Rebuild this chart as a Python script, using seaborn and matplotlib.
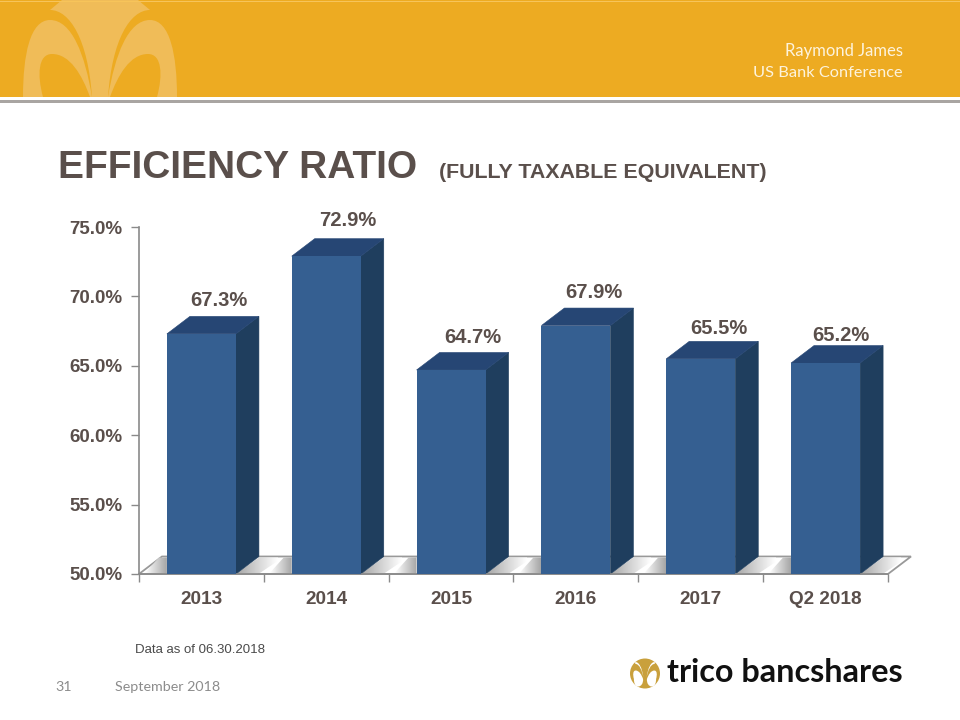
import numpy as np
import pandas as pd
import matplotlib
matplotlib.use("Agg")
import matplotlib.pyplot as plt
import seaborn as sns
from matplotlib.colors import LinearSegmentedColormap
from matplotlib.patches import Polygon, PathPatch, Rectangle, Circle
from matplotlib.path import Path

periods = ["2013", "2014", "2015", "2016", "2017", "Q2 2018"]
ratios = [67.3, 72.9, 64.7, 67.9, 65.5, 65.2]
y_ticks = [50, 55, 60, 65, 70, 75]
label_shift_px = [(17, -33), (22, -36), (22, -32), (18, -33), (18, -30), (15, -28)]

GOLD = "#EDAB22"
PALE = "#F0BC58"
FRONT = "#355F91"
SIDE = "#1F3E5E"
TOP = "#264674"
INK = "#5A4F4B"
AXIS = "#8A8A8A"
DEPTH = (23, -17.5)

sns.set_theme(style="white")
plt.rcParams["font.family"] = ["Liberation Sans", "DejaVu Sans"]

W, H = 960, 720
fig = plt.figure(figsize=(W / 100, H / 100), dpi=100, facecolor="white")

bg = fig.add_axes([0, 0, 1, 1], zorder=0)
bg.set_xlim(0, W)
bg.set_ylim(H, 0)
bg.axis("off")

ax = fig.add_axes([139 / W, 1 - 574 / H, 749 / W, (574 - 227) / H], zorder=1)
ax.patch.set_alpha(0)

df = pd.DataFrame({"period": periods, "ratio": ratios})
sns.barplot(data=df, x="period", y="ratio", color=FRONT, saturation=1, width=0.553,
            linewidth=0, edgecolor="none", ax=ax, zorder=3)
ax.set_xlim(-0.5, 5.5)
ax.set_ylim(50, 75)
ax.set_xlabel("")
ax.set_ylabel("")
ax.set_yticks(y_ticks)
ax.set_yticklabels([f"{v:.1f}%" for v in y_ticks])
ax.set_xticks(np.arange(-0.5, 6, 1), minor=True)
ax.set_xticks(range(6))
ax.set_xticklabels(periods)
ax.tick_params(axis="x", which="major", length=0, pad=12, labelsize=13.7, labelcolor=INK)
ax.tick_params(axis="x", which="minor", length=6, width=1, color=AXIS, bottom=True, direction="out")
ax.tick_params(axis="y", length=6, width=1, color=AXIS, left=True, labelsize=13.5, labelcolor=INK, pad=6)
for t in ax.get_xticklabels() + ax.get_yticklabels():
    t.set_fontweight("bold")
sns.despine(ax=ax, top=True, right=True)
for s in ("left", "bottom"):
    ax.spines[s].set_color(AXIS)
    ax.spines[s].set_linewidth(1.2)

fig.canvas.draw()


def to_px(x, y):
    return bg.transData.inverted().transform(ax.transData.transform((x, y)))


C4 = Path.CURVE4
M = Path.MOVETO
ARCH = ([(23, 97), (23, 55), (30, 20), (50, 20), (72, 20), (85, 55), (92, 97), (23, 97)],
        [M, C4, C4, C4, C4, C4, C4, Path.CLOSEPOLY])
LOBE = ([(43, 97), (37, 75), (38, 54), (52, 54), (70, 54), (82, 75), (90, 97),
         (92, 120), (80, 136), (65, 136), (48, 136), (43, 115), (43, 97), (43, 97)],
        [M, C4, C4, C4, C4, C4, C4, C4, C4, C4, C4, C4, C4, Path.CLOSEPOLY])
CRESCENT = ([(50, 10), (70, 10), (85, 40), (92, 90), (85, 55), (72, 20), (50, 20), (50, 10)],
            [M, C4, C4, C4, C4, C4, C4, Path.CLOSEPOLY])
HUB = ([(50, 10), (150, 10), (130, 10), (112, 40), (108, 97), (92, 97), (88, 40), (70, 10), (50, 10), (50, 10)],
       [M, Path.LINETO, C4, C4, C4, Path.LINETO, C4, C4, C4, Path.CLOSEPOLY])
CAP = ([(62, 0), (138, 0), (150, 10), (50, 10), (62, 0)],
       [M, Path.LINETO, Path.LINETO, Path.LINETO, Path.CLOSEPOLY])


def shape(pts_codes, mirror=False, scale=1.0, ox=0.0, oy=0.0):
    pts = np.array(pts_codes[0], dtype=float)
    if mirror:
        pts[:, 0] = 200 - pts[:, 0]
    pts = pts * scale + np.array([ox, oy])
    return Path(pts, pts_codes[1])


# Header band
bg.add_patch(Rectangle((0, 0), W, 96.5, fc=GOLD, ec="none", zorder=1))
bg.add_patch(Rectangle((0, 1), W, 1, fc="#F7C45A", ec="none", zorder=5))
bg.add_patch(Rectangle((0, 100), W, 2.5, fc="#A9A5A2", ec="none", zorder=1))
band = Rectangle((0, 0), W, 96.5, transform=bg.transData)
for mirror in (False, True):
    for src, col in ((ARCH, PALE), (LOBE, GOLD)):
        p = PathPatch(shape(src, mirror), fc=col, ec="none", zorder=2)
        bg.add_patch(p)
        p.set_clip_path(band)
for src in (HUB, CAP):
    bg.add_patch(PathPatch(shape(src), fc=PALE, ec="none", zorder=2))

bg.text(903, 51, "Raymond James", ha="right", va="center", color="#FDF3DC", fontsize=12, family="Lato")
bg.text(903, 73, "US Bank Conference", ha="right", va="center", color="#FDF3DC", fontsize=11.8, family="Lato")

# Title
bg.text(58, 168, "EFFICIENCY RATIO", ha="left", va="center", color=INK, fontsize=28, fontweight="bold")
bg.text(439, 173, "(FULLY TAXABLE EQUIVALENT)", ha="left", va="center", color=INK, fontsize=15.4, fontweight="bold")

# Floor
x0, y0 = to_px(-0.5, 50)
x1, _ = to_px(5.5, 50)
dx, dy = DEPTH
bg.add_patch(Polygon([(x0, y0), (x0 + dx, y0 + dy), (x1 + dx, y0 + dy), (x1, y0)],
                     closed=True, fc="white", ec="#999999", lw=1.3, zorder=1))

# Bar depth: sides, tops and floor shading follow each drawn bar
grad = np.linspace(0, 1, 64).reshape(1, -1)
shade = LinearSegmentedColormap.from_list("s", ["#FFFFFF", "#A6A6A6"])
for bar, v, (lx, ly) in zip(ax.patches, ratios, label_shift_px):
    l, r = bar.get_x(), bar.get_x() + bar.get_width()
    xl, yb = to_px(l, 50)
    xr, yt = to_px(r, v)
    bg.add_patch(Polygon([(xr, yb), (xr, yt), (xr + dx, yt + dy), (xr + dx, yb + dy)],
                         closed=True, fc=SIDE, ec=SIDE, lw=0.4, zorder=3))
    bg.add_patch(Polygon([(xl, yt), (xr, yt), (xr + dx, yt + dy), (xl + dx, yt + dy)],
                         closed=True, fc=TOP, ec=TOP, lw=0.4, zorder=3))
    # floor shadows
    left_clip = Polygon([(xl - 22, yb - 1), (xl - 8, yb + dy + 1), (xl, yb + dy + 1), (xl, yb - 1)], closed=True,
                        transform=bg.transData, fc="none", ec="none")
    im = bg.imshow(grad, cmap=shade, extent=(xl - 22, xl, yb - 1, yb + dy + 1), aspect="auto", zorder=2)
    bg.add_patch(left_clip)
    im.set_clip_path(left_clip)
    right_clip = Polygon([(xr + 1, yb - 1), (xr + dx, yb + dy + 1), (xr + dx + 24, yb + dy + 1),
                          (xr + 24, yb - 1)], closed=True, transform=bg.transData, fc="none", ec="none")
    im2 = bg.imshow(grad[:, ::-1], cmap=shade, extent=(xr, xr + dx + 18, yb - 1, yb + dy + 1),
                    aspect="auto", zorder=2)
    bg.add_patch(right_clip)
    im2.set_clip_path(right_clip)
    ax.annotate(f"{v:.1f}%", xy=((l + r) / 2, v), xytext=(lx * 0.72, -ly * 0.72),
                textcoords="offset points", ha="center", va="center", color=INK,
                fontsize=14.5, fontweight="bold", annotation_clip=False, zorder=5)
bg.set_xlim(0, W)
bg.set_ylim(H, 0)
bg.set_aspect("auto")

# Footer
bg.text(135, 650, "Data as of 06.30.2018", ha="left", va="center", color="#4A4A4A", fontsize=9.5)
bg.text(55, 687, "31", ha="left", va="center", color="#8C8C8C", fontsize=10.3, family="Lato")
bg.text(115, 687, "September 2018", ha="left", va="center", color="#8C8C8C", fontsize=10.3, family="Lato")

# Logo
LOGO = "#C9A03C"
bg.add_patch(Circle((645, 673.5), 15, fc=LOGO, ec="none", zorder=3))
for mirror in (False, True):
    for src in (CRESCENT, LOBE):
        bg.add_patch(PathPatch(shape(src, mirror, 0.195, 625.5, 660), fc="white", ec="none", zorder=4))
bg.text(903, 672, "trico bancshares", ha="right", va="center", color="#111111", fontsize=23.3,
        family="Lato", fontweight="bold")

fig.savefig("out.png", dpi=100, facecolor="white")
